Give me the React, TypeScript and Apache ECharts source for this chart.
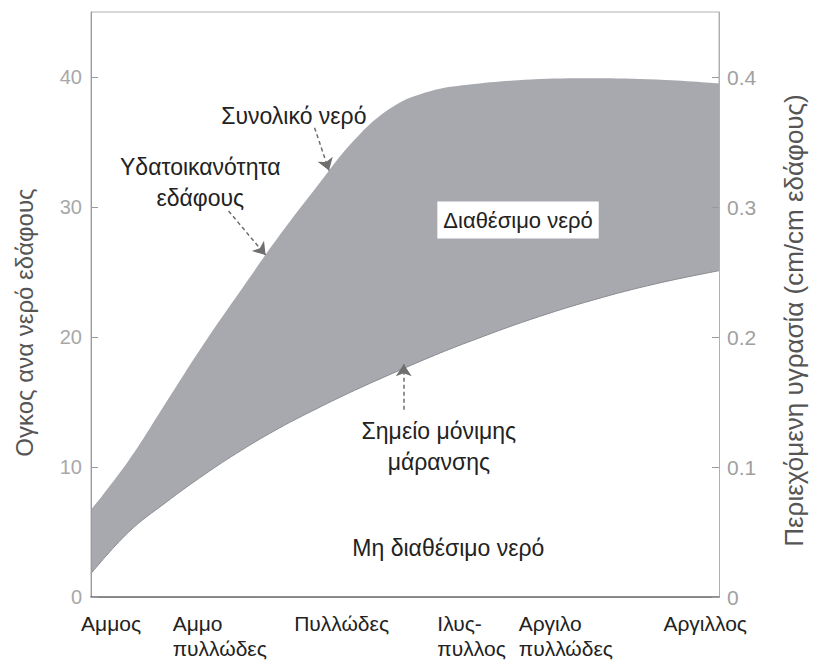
import React, { useEffect, useRef } from "react";
import * as echarts from "echarts";

// Soil texture classes along the x axis (0 = sand, 100 = clay)
const categories = ["Αμμος", "Αμμο\nπυλλώδες", "Πυλλώδες", "Ιλυς-\nπυλλος", "Αργιλο\nπυλλώδες", "Αργιλλος"];
const categoryX = [3.2, 20.5, 39.9, 60.6, 75.6, 97.8];

// Sample positions along the texture axis
const texturePosition = [0, 6, 12, 18, 24, 30, 36, 42, 48, 54, 60, 70, 80, 90, 100];
// Field capacity (total water) and permanent wilting point, volume of water per soil
const fieldCapacity = [6.7, 10.5, 15.0, 19.5, 23.7, 27.8, 31.6, 35.2, 37.7, 38.9, 39.4, 39.8, 39.9, 39.8, 39.5];
const wiltingPoint = [1.8, 5.0, 7.3, 9.4, 11.3, 13.0, 14.5, 15.9, 17.2, 18.45, 19.6, 21.35, 22.85, 24.1, 25.1];

const leftTicks = [0, 10, 20, 30, 40];
const rightTicks = [0, 0.1, 0.2, 0.3, 0.4];

const annotationTexts = ["Συνολικό νερό", "Υδατοικανότητα\nεδάφους", "Διαθέσιμο νερό", "Σημείο μόνιμης\nμάρανσης", "Μη διαθέσιμο νερό"];
const annotationCoords = [[32.3, 37.0], [17.4, 31.9], [68.0, 29.0], [55.4, 11.6], [56.9, 3.8]];
const arrowFrom = [[35.6, 36.1], [21.9, 29.7], [49.8, 14.4]];
const arrowTo = [[37.9, 32.8], [27.8, 26.3], [49.8, 17.9]];

const FONT = "'Liberation Sans', Arial, sans-serif";

export default function App() {
  const ref = useRef<HTMLDivElement>(null);

  useEffect(() => {
    if (!ref.current) return;
    const chart = echarts.init(ref.current, undefined, { renderer: "svg" });

    const upper = texturePosition.map((x, i) => [x, fieldCapacity[i]]);
    const lower = texturePosition.map((x, i) => [x, wiltingPoint[i]]);

    const markPoints = annotationTexts.map((t, i) => ({
      coord: annotationCoords[i],
      symbol: "rect",
      symbolSize: 1,
      itemStyle: { color: "rgba(0,0,0,0)" },
      label: {
        show: true,
        position: "inside",
        formatter: t,
        color: "#222",
        fontSize: i === 2 ? 22 : 23,
        fontFamily: FONT,
        lineHeight: 31,
        align: "center",
        verticalAlign: "middle",
        backgroundColor: i === 2 ? "#ffffff" : "transparent",
        padding: i === 2 ? [3, 6, 3, 6] : 0,
      },
    }));

    const markLines = arrowFrom.map((f, i) => [{ coord: f }, { coord: arrowTo[i] }]);

    chart.setOption({
      animation: false,
      backgroundColor: "#ffffff",
      grid: {
        left: 91,
        right: 90,
        top: 12,
        bottom: 71,
        show: true,
        borderColor: "#b0b0b0",
        borderWidth: 1,
        backgroundColor: "transparent",
      },
      xAxis: {
        type: "value",
        min: 0,
        max: 100,
        z: 6,
        splitLine: { show: false },
        axisLine: { show: true, lineStyle: { color: "#6a6a6a", width: 1.5 } },
        axisTick: { show: false },
        axisLabel: {
          show: true,
          customValues: categoryX,
          margin: 14,
          formatter: (v: number) => {
            const idx = categoryX.indexOf(v);
            if (idx < 0) return "";
            return categories[idx]
              .split("\n")
              .map((s) => `{a|${s}}`)
              .join("\n");
          },
          rich: {
            a: { align: "left", fontSize: 21, fontFamily: FONT, color: "#222", lineHeight: 25 },
          },
        },
      },
      yAxis: [
        {
          type: "value",
          min: 0,
          max: 45,
          position: "left",
          z: 6,
          splitLine: { show: false },
          axisLine: { show: true, lineStyle: { color: "#9a9a9a", width: 1 } },
          axisTick: { show: true, inside: true, length: 7, customValues: leftTicks, lineStyle: { color: "#9a9a9a" } },
          axisLabel: {
            customValues: leftTicks,
            margin: 9,
            color: "#a8a8a8",
            fontSize: 20,
            fontFamily: FONT,
          },
          name: "Ογκος ανα νερό εδάφους",
          nameLocation: "middle",
          nameRotate: 90,
          nameGap: 55,
          nameTextStyle: { color: "#555", fontSize: 24, fontFamily: FONT, padding: [0, 36, 0, 0] },
        },
        {
          type: "value",
          min: 0,
          max: 0.45,
          position: "right",
          z: 6,
          splitLine: { show: false },
          axisLine: { show: true, lineStyle: { color: "#b0b0b0", width: 1 } },
          axisTick: { show: true, inside: true, length: 7, customValues: rightTicks, lineStyle: { color: "#9a9a9a" } },
          axisLabel: {
            customValues: rightTicks,
            margin: 8,
            color: "#a0a0a0",
            fontSize: 21,
            fontFamily: FONT,
          },
          name: "Περιεχόμενη υγρασία (cm/cm εδάφους)",
          nameLocation: "middle",
          nameRotate: 90,
          nameGap: 62,
          nameTextStyle: { color: "#555", fontSize: 26, fontFamily: FONT, padding: [0, 32, 0, 0] },
        },
      ],
      series: [
        {
          name: "Συνολικό νερό",
          type: "line",
          data: upper,
          smooth: 0.4,
          showSymbol: false,
          silent: true,
          lineStyle: { width: 0 },
          areaStyle: { color: "#a7a9af", opacity: 1 },
          z: 2,
        },
        {
          name: "Σημείο μόνιμης μάρανσης",
          type: "line",
          data: lower,
          smooth: 0.4,
          showSymbol: false,
          silent: true,
          lineStyle: { width: 1, color: "#8a8c92" },
          areaStyle: { color: "#ffffff", opacity: 1 },
          z: 3,
          markPoint: { silent: true, z: 8, data: markPoints },
          markLine: {
            silent: true,
            z: 8,
            symbol: ["none", "arrow"],
            symbolSize: 12,
            label: { show: false },
            lineStyle: { type: [4, 3], color: "#6f6f6f", width: 1.5 },
            data: markLines,
          },
        },
      ],
    });

    return () => chart.dispose();
  }, []);

  return (
    <div
      ref={ref}
      style={{ position: "fixed", left: 0, top: 0, width: 815, height: 668, background: "#fff" }}
    />
  );
}
